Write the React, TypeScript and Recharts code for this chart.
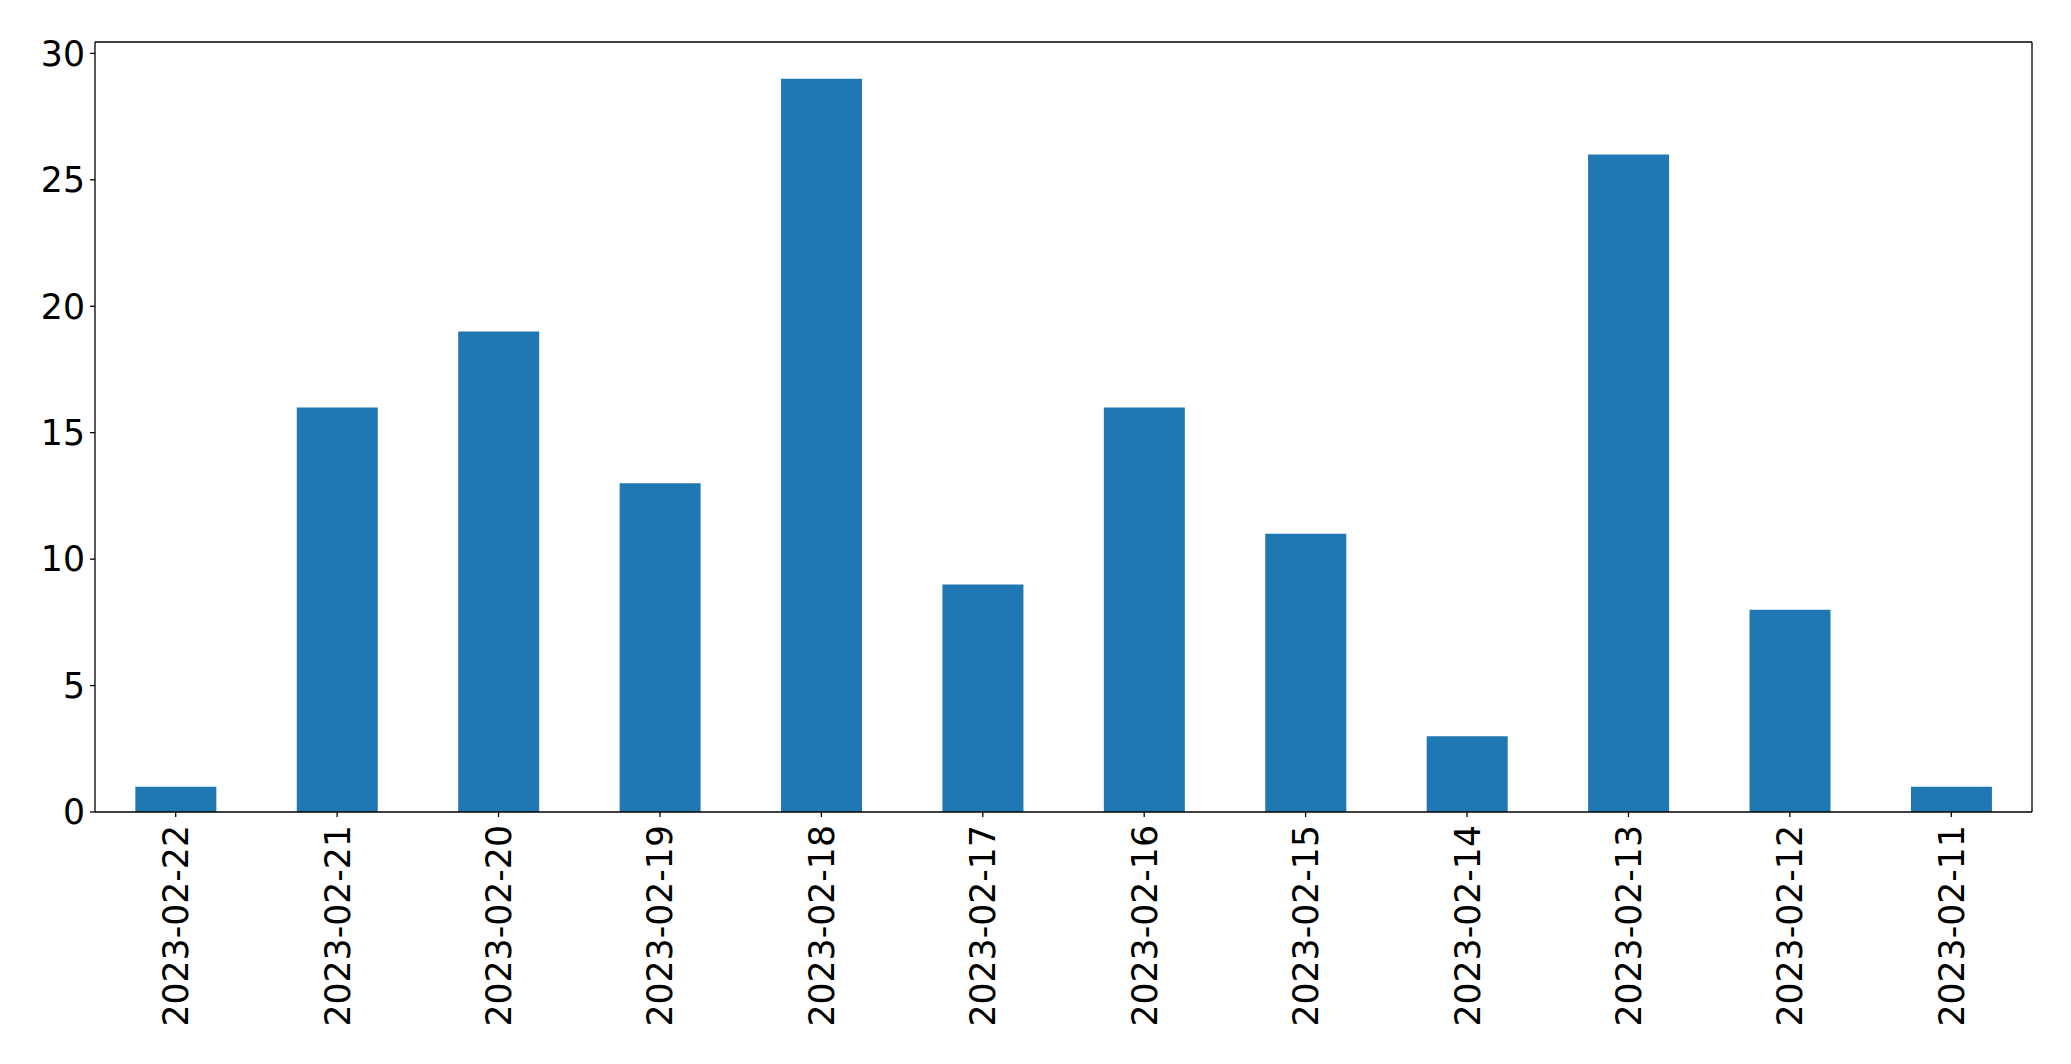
import { Bar, BarChart, CartesianGrid, XAxis, YAxis } from 'recharts';

const dates = [
  '2023-02-22', '2023-02-21', '2023-02-20', '2023-02-19', '2023-02-18', '2023-02-17',
  '2023-02-16', '2023-02-15', '2023-02-14', '2023-02-13', '2023-02-12', '2023-02-11',
];
const counts = [1, 16, 19, 13, 29, 9, 16, 11, 3, 26, 8, 1];
const yTicks = [0, 5, 10, 15, 20, 25, 30];

const data = dates.map((d, i) => ({ date: d, count: counts[i] }));

const FONT = '"DejaVu Sans", sans-serif';
const FS = 34.7;

function DateTick(props: any) {
  const { x, y, payload } = props;
  return (
    <g transform={`translate(${x},${y + 6})`}>
      <text
        transform="rotate(-90)"
        textAnchor="end"
        dy="0.36em"
        fontSize={FS}
        fontFamily={FONT}
        fill="#000"
      >
        {payload.value}
      </text>
    </g>
  );
}

export default function App() {
  return (
    <div style={{ position: 'absolute', left: 0, top: 0, width: 2071, height: 1064, background: '#fff' }}>
      <BarChart
        width={2071}
        height={1064}
        data={data}
        barCategoryGap="25%"
        margin={{ top: 42, right: 39, bottom: 0, left: 0 }}
      >
        {/* top and right spines of the frame */}
        <CartesianGrid
          stroke="#000"
          strokeWidth={1.3}
          horizontalCoordinatesGenerator={({ offset }: any) => [offset.top]}
          verticalCoordinatesGenerator={({ offset }: any) => [offset.left + offset.width]}
        />
        <XAxis
          dataKey="date"
          interval={0}
          height={252}
          axisLine={{ stroke: '#000', strokeWidth: 1.3 }}
          tickLine={{ stroke: '#000', strokeWidth: 1.3 }}
          tickSize={5}
          tick={<DateTick />}
        />
        <YAxis
          type="number"
          domain={[0, 30.45]}
          ticks={yTicks}
          width={95}
          axisLine={{ stroke: '#000', strokeWidth: 1.3 }}
          tickLine={{ stroke: '#000', strokeWidth: 1.3 }}
          tickSize={5}
          tickMargin={5}
          tick={{ fill: '#000', fontSize: FS, fontFamily: FONT }}
        />
        <Bar dataKey="count" fill="#1f77b4" isAnimationActive={false} />
      </BarChart>
    </div>
  );
}
